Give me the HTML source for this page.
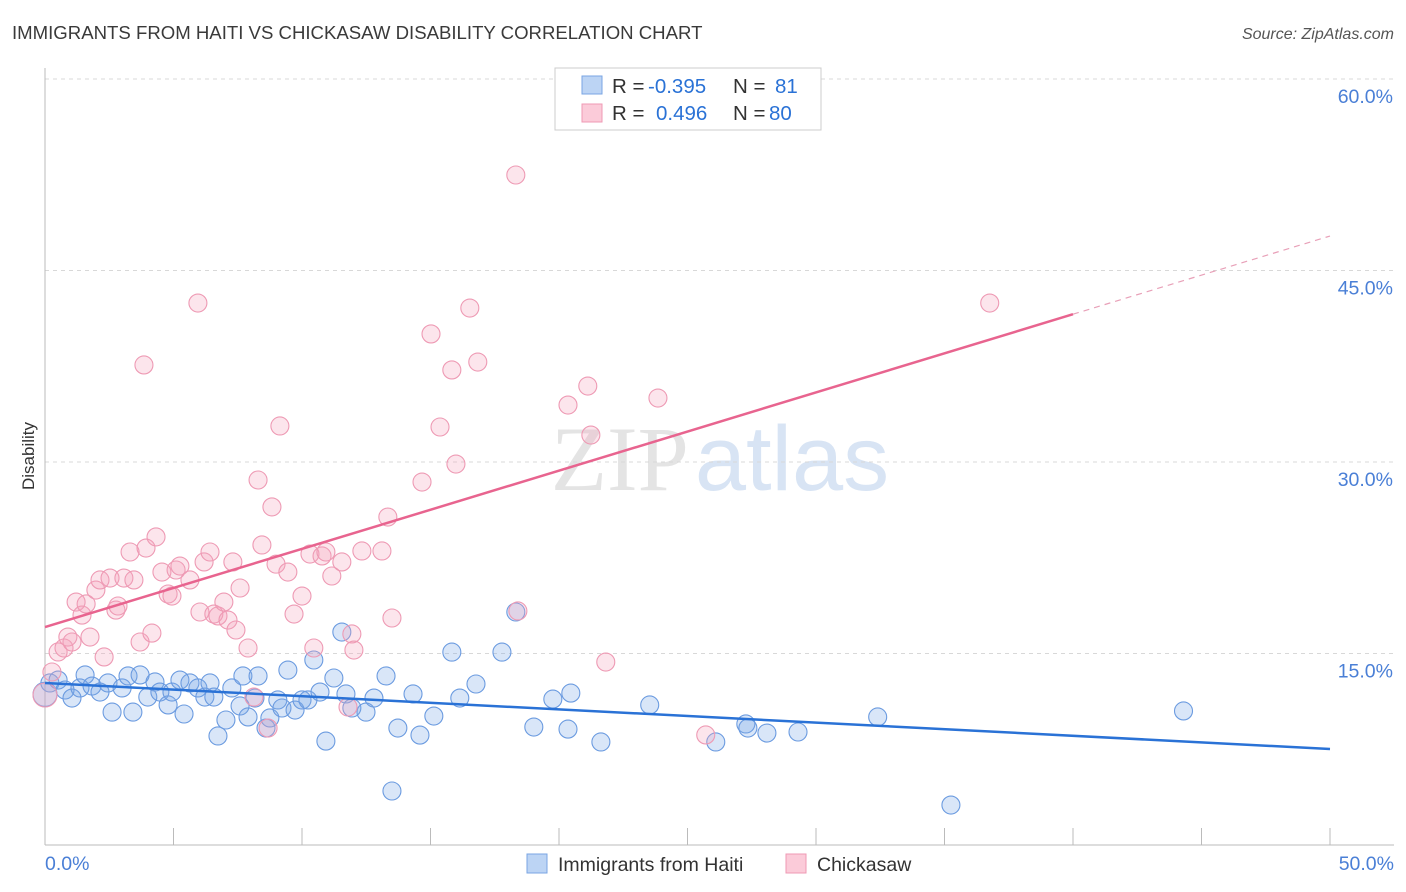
<!DOCTYPE html>
<html><head><meta charset="utf-8"><style>
body{margin:0;background:#fff;font-family:"Liberation Sans",sans-serif;}
#wrap{position:relative;width:1406px;height:892px;overflow:hidden}
</style></head><body>
<div id="wrap">
<svg id="svg" width="1406" height="892" xmlns="http://www.w3.org/2000/svg"></svg>
</div>
<script>
const blueX=[0.19,0.51,0.78,1.05,1.36,1.56,1.83,2.14,2.45,2.61,3.0,3.23,3.42,3.7,4.0,4.28,4.47,4.79,4.94,5.25,5.41,5.64,5.95,6.22,6.42,6.57,6.73,7.04,7.27,7.59,7.7,7.9,8.17,8.29,8.6,8.75,9.06,9.22,9.45,9.73,10.0,10.23,10.46,10.7,10.93,11.24,11.55,11.71,11.94,12.49,12.8,13.27,13.5,13.73,14.32,14.59,15.13,15.83,16.14,16.77,17.78,18.32,19.02,19.76,20.35,20.46,21.63,23.53,26.1,27.27,27.35,28.09,29.3,32.4,35.25,44.3,0.0];
const blueY=[12.69,12.92,12.14,11.51,12.3,13.32,12.45,11.98,12.69,10.41,12.3,13.24,10.41,13.32,11.59,12.77,11.98,10.97,11.98,12.92,10.26,12.69,12.3,11.59,12.69,11.59,8.54,9.79,12.3,10.89,13.24,10.03,11.51,13.24,9.16,9.95,11.36,10.73,13.7,10.57,11.36,11.36,14.49,11.98,8.14,13.08,16.68,11.83,10.73,10.41,11.51,13.24,4.23,9.16,11.83,8.61,10.1,15.11,11.51,12.61,15.11,18.25,9.24,11.43,9.08,11.9,8.07,10.97,8.07,9.48,9.16,8.77,8.85,10.03,3.13,10.5,11.8];
const pinkX=[0,0.27,0.51,0.74,0.89,1.05,1.21,1.44,1.6,1.75,1.98,2.14,2.3,2.53,2.76,2.84,3.07,3.31,3.46,3.7,3.93,4.16,4.32,4.55,4.79,4.94,5.1,5.25,5.64,5.95,3.85,6.03,6.19,6.42,6.57,6.73,6.96,7.12,7.31,7.43,7.59,7.9,8.13,8.29,8.44,8.68,8.83,8.99,9.14,9.45,9.69,10.0,10.31,10.46,10.78,10.93,11.16,11.55,11.79,11.94,12.02,12.33,13.11,13.34,13.5,14.67,15.02,15.37,15.83,15.99,16.53,16.84,18.32,18.4,20.35,21.12,21.24,21.82,23.85,25.71,36.76];
const pinkY=[11.75,13.55,15.12,15.43,16.29,15.9,19.03,18.01,18.88,16.29,19.97,20.76,14.73,20.91,18.4,18.72,20.91,22.95,20.76,15.9,23.26,16.6,24.13,21.38,19.66,19.5,21.54,21.85,20.76,42.45,37.6,18.25,22.17,22.95,18.09,17.94,19.03,17.62,22.17,16.84,20.13,15.43,11.59,28.59,23.5,9.16,26.48,22.0,32.82,21.38,18.09,19.5,22.79,15.43,22.64,22.95,21.07,22.17,10.81,16.53,15.27,23.03,23.03,25.69,17.78,28.43,40.03,32.74,37.21,29.84,42.06,37.83,52.48,18.33,34.46,35.95,32.11,14.33,35.01,8.62,42.45];
const blueLine=[12.69,7.52];   // y at x=0 and x=50
const pinkLine=[17.07,47.7];   // y at x=0 and x=50
const pinkSolidEnd=40;
const yTicks=[15,30,45,60];
const yTickLabels=["15.0%","30.0%","45.0%","60.0%"];

const NS="http://www.w3.org/2000/svg";
const svg=document.getElementById('svg');
const X=v=>45+v*25.7;
const Y=v=>845-v*12.767;
function el(t,a,p){const e=document.createElementNS(NS,t);for(const k in a)e.setAttribute(k,a[k]);(p||svg).appendChild(e);return e;}
function txt(s,a){const e=el('text',a);e.textContent=s;return e;}

let t=txt("IMMIGRANTS FROM HAITI VS CHICKASAW DISABILITY CORRELATION CHART",{x:12,y:39,'font-size':18.6,fill:'#3a3a3a'});

t=txt("Source: ZipAtlas.com",{x:1394,y:39,'font-size':16,fill:'#555','font-style':'italic','text-anchor':'end'});


// watermark
t=el('text',{x:720,y:490,'font-size':92,'text-anchor':'middle'});

t.innerHTML='<tspan fill="#e4e4e4" font-family="Liberation Serif">ZIP</tspan><tspan fill="#d8e4f4" font-family="Liberation Sans" dx="6">atlas</tspan>';

yTicks.forEach((v,i)=>{
 const g=el('line',{x1:45,x2:1394,y1:Y(v),y2:Y(v),stroke:'#d8d8d8','stroke-dasharray':'4,4'});
 
 const l=txt(yTickLabels[i],{x:1393,y:Y(v)+24,'font-size':19.5,fill:'#4a7fd6','text-anchor':'end'});
 
});
let ax=el('line',{x1:45,x2:45,y1:68,y2:845,stroke:'#bbb'});

ax=el('line',{x1:45,x2:1394,y1:845,y2:845,stroke:'#bbb'});

for(let i=0;i<=10;i++){const tk=el('line',{x1:X(i*5),x2:X(i*5),y1:828,y2:845,stroke:'#bbb'});
 }
t=txt("0.0%",{x:45,y:870,'font-size':19.5,fill:'#4a7fd6'});
t=txt("50.0%",{x:1394,y:870,'font-size':19.5,fill:'#4a7fd6','text-anchor':'end'});
t=txt("Disability",{x:34,y:456,'font-size':17,fill:'#333','text-anchor':'middle',transform:'rotate(-90 34 456)'});


blueX.forEach((v,i)=>{const c=el('circle',{cx:X(v),cy:Y(blueY[i]),r:i==blueX.length-1?12:9,fill:'rgba(120,165,230,0.28)',stroke:'#6b9be0','stroke-width':1.1});
 });
pinkX.forEach((v,i)=>{const c=el('circle',{cx:X(v),cy:Y(pinkY[i]),r:i==0?12:9,fill:'rgba(245,160,185,0.28)',stroke:'#ee9ab4','stroke-width':1.1});
 });

const py=x=>pinkLine[0]+(pinkLine[1]-pinkLine[0])*x/50;
let ln=el('line',{x1:X(0),y1:Y(blueLine[0]),x2:X(50),y2:Y(blueLine[1]),stroke:'#2a72d6','stroke-width':2.5});

ln=el('line',{x1:X(0),y1:Y(py(0)),x2:X(pinkSolidEnd),y2:Y(py(pinkSolidEnd)),stroke:'#e8648f','stroke-width':2.5});

ln=el('line',{x1:X(pinkSolidEnd),y1:Y(py(pinkSolidEnd)),x2:X(50),y2:Y(py(50)),stroke:'#e8a0b8','stroke-width':1.2,'stroke-dasharray':'6,5'});


const lg=el('g',{});
el('rect',{x:555,y:68,width:266,height:62,fill:'#fff',stroke:'#ccc'},lg);
el('rect',{x:582,y:76,width:20,height:18,fill:'#bcd4f4',stroke:'#7aa5e3'},lg);
el('rect',{x:582,y:104,width:20,height:18,fill:'#fbcbd9',stroke:'#ef9ab4'},lg);
lg.insertAdjacentHTML('beforeend','<text x="612" y="93" font-size="20.5" fill="#333">R = <tspan x="648" fill="#2a72d6">-0.395</tspan><tspan x="733">N = </tspan><tspan x="775" fill="#2a72d6">81</tspan></text><text x="612" y="120" font-size="20.5" fill="#333">R = <tspan x="656" fill="#2a72d6">0.496</tspan><tspan x="733">N = </tspan><tspan x="769" fill="#2a72d6">80</tspan></text>');

const bl=el('g',{});
el('rect',{x:527,y:854,width:20,height:19,fill:'#bcd4f4',stroke:'#7aa5e3'},bl);
el('rect',{x:786,y:854,width:20,height:19,fill:'#fbcbd9',stroke:'#ef9ab4'},bl);
bl.insertAdjacentHTML('beforeend','<text x="558" y="871" font-size="19.5" fill="#333">Immigrants from Haiti</text><text x="817" y="871" font-size="19.5" fill="#333">Chickasaw</text>');
</script>
</body></html>
